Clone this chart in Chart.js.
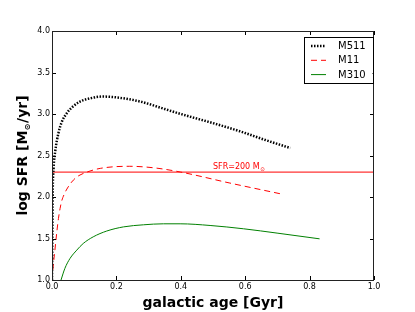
<!DOCTYPE html>
<html>
<head>
<meta charset="utf-8">
<script src="https://cdn.jsdelivr.net/npm/chart.js@4.4.1/dist/chart.umd.min.js"></script>
<style>
html,body{margin:0;padding:0;background:#fff;}
#wrap{width:415px;height:312px;}
</style>
</head>
<body>
<div id="wrap"><canvas id="c" width="415" height="312"></canvas></div>
<script>
// ---- data ----
const seriesNames = ['M511', 'M11', 'M310'];
const m511X = [0, 0.002, 0.005, 0.01, 0.02, 0.03, 0.046, 0.065, 0.087, 0.12, 0.155, 0.2, 0.274, 0.35, 0.4, 0.5, 0.585, 0.66, 0.74];
const m511Y = [1.0, 2.0, 2.35, 2.55, 2.77, 2.9, 3.01, 3.09, 3.15, 3.19, 3.21, 3.2, 3.15, 3.06, 3.0, 2.89, 2.79, 2.69, 2.59];
const m11X = [0, 0.004, 0.009, 0.015, 0.02, 0.025, 0.03, 0.04, 0.05, 0.061, 0.075, 0.087, 0.108, 0.15, 0.24, 0.32, 0.4, 0.55, 0.72];
const m11Y = [1.0, 1.18, 1.36, 1.58, 1.74, 1.86, 1.95, 2.05, 2.12, 2.18, 2.235, 2.265, 2.30, 2.345, 2.37, 2.35, 2.30, 2.17, 2.03];
const m310X = [0.028, 0.04, 0.056, 0.077, 0.097, 0.128, 0.17, 0.222, 0.284, 0.346, 0.398, 0.491, 0.595, 0.699, 0.831];
const m310Y = [1.0, 1.14, 1.26, 1.36, 1.44, 1.52, 1.59, 1.64, 1.665, 1.677, 1.677, 1.657, 1.617, 1.565, 1.496];
const thresholdX = [0, 1];
const thresholdY = [2.3, 2.3];
const thresholdLabel = 'SFR=200 M';
const sunSymbol = '\u2299';
const xTicks = [0, 0.2, 0.4, 0.6, 0.8, 1.0];
const yTicks = [1.0, 1.5, 2.0, 2.5, 3.0, 3.5, 4.0];
const xTitle = 'galactic age [Gyr]';
const yTitleParts = ['log SFR [M', '\u2299', '/yr]'];

function pts(xs, ys){ return xs.map((x,i)=>({x:x, y:ys[i]})); }

const FONT = 'DejaVu Sans';

const framePlugin = {
  id: 'frame',
  afterDatasetsDraw(chart){
    const ctx = chart.ctx, a = chart.chartArea;
    const xs = chart.scales.x, ys = chart.scales.y;
    ctx.save();
    ctx.strokeStyle = '#000';
    ctx.lineWidth = 1;
    ctx.beginPath();
    xTicks.forEach(v=>{
      const px = Math.round(xs.getPixelForValue(v)) + 0.5;
      ctx.moveTo(px, a.bottom); ctx.lineTo(px, a.bottom - 4);
      ctx.moveTo(px, a.top); ctx.lineTo(px, a.top + 4);
    });
    yTicks.forEach(v=>{
      const py = Math.round(ys.getPixelForValue(v)) + 0.5;
      ctx.moveTo(a.left, py); ctx.lineTo(a.left + 4, py);
      ctx.moveTo(a.right, py); ctx.lineTo(a.right - 4, py);
    });
    ctx.stroke();
    ctx.strokeStyle = '#222';
    ctx.strokeRect(Math.round(a.left)+0.5, Math.round(a.top)+0.5, Math.round(a.right-a.left)-1, Math.round(a.bottom-a.top));
    // annotation text
    const tx = xs.getPixelForValue(0.5), ty = ys.getPixelForValue(2.335);
    ctx.fillStyle = '#ff0000';
    ctx.font = '8px "' + FONT + '"';
    ctx.textBaseline = 'alphabetic';
    ctx.textAlign = 'left';
    ctx.fillText(thresholdLabel, tx, ty);
    const w = ctx.measureText(thresholdLabel).width;
    ctx.font = '5.5px "' + FONT + '"';
    ctx.fillText(sunSymbol, tx + w + 0.5, ty + 2);
    // legend
    const bx = a.right - 70.5, by = a.top + 5.5, bw = 69, bh = 46;
    ctx.fillStyle = '#fff';
    ctx.fillRect(bx, by, bw, bh);
    ctx.strokeStyle = '#000';
    ctx.lineWidth = 1;
    ctx.strokeRect(Math.round(bx)+0.5, Math.round(by)+0.5, bw, bh);
    chart.data.datasets.forEach((ds, i)=>{
      if (!ds.inLegend) return;
      const rowY = by + 9.5 + i * 14.3;
      ctx.save();
      ctx.strokeStyle = ds.borderColor;
      ctx.lineWidth = ds.borderWidth;
      ctx.setLineDash(ds.borderDash || []);
      ctx.beginPath();
      ctx.moveTo(bx + 7.5, rowY); ctx.lineTo(bx + 22.5, rowY);
      ctx.stroke();
      ctx.restore();
      ctx.fillStyle = '#000';
      ctx.font = '10px "' + FONT + '"';
      ctx.textBaseline = 'middle';
      ctx.fillText(ds.label, bx + 34.5, rowY + 0.5);
    });
    ctx.restore();
  },
  afterDraw(chart){
    // y-axis title with subscript sun symbol
    const ctx = chart.ctx, a = chart.chartArea;
    const big = 'bold 14px "' + FONT + '"', small = 'bold 8px "' + FONT + '"';
    ctx.save();
    ctx.font = big;
    const w0 = ctx.measureText(yTitleParts[0]).width, w2 = ctx.measureText(yTitleParts[2]).width;
    ctx.font = small;
    const w1 = ctx.measureText(yTitleParts[1]).width + 1;
    const total = w0 + w1 + w2;
    const cy = (a.top + a.bottom) / 2;
    ctx.translate(27, cy);
    ctx.rotate(-Math.PI / 2);
    ctx.fillStyle = '#000';
    ctx.textBaseline = 'alphabetic';
    ctx.textAlign = 'left';
    let x = -total / 2;
    ctx.font = big; ctx.fillText(yTitleParts[0], x, 0); x += w0;
    ctx.font = small; ctx.fillText(yTitleParts[1], x + 0.5, 2.5); x += w1;
    ctx.font = big; ctx.fillText(yTitleParts[2], x, 0);
    ctx.restore();
  }
};

new Chart(document.getElementById('c'), {
  type: 'line',
  data: {
    datasets: [
      { label: seriesNames[0], data: pts(m511X, m511Y), borderColor: '#000000', borderWidth: 2.5, borderDash: [1.5, 1.5], inLegend: true },
      { label: seriesNames[1], data: pts(m11X, m11Y), borderColor: '#ff0000', borderWidth: 1, borderDash: [6, 4], inLegend: true },
      { label: seriesNames[2], data: pts(m310X, m310Y), borderColor: '#008000', borderWidth: 1, inLegend: true },
      { label: 'SFR=200', data: pts(thresholdX, thresholdY), borderColor: '#ff0000', borderWidth: 1, inLegend: false, tension: 0 }
    ]
  },
  options: {
    responsive: false,
    animation: false,
    events: [],
    layout: { padding: { top: 31, right: 41, left: 0, bottom: 0 } },
    elements: { point: { radius: 0 }, line: { cubicInterpolationMode: 'monotone', fill: false, borderCapStyle: 'butt' } },
    plugins: { legend: { display: false }, tooltip: { enabled: false } },
    scales: {
      x: {
        type: 'linear', min: 0, max: 1,
        afterFit(s){ s.height = 32; },
        afterBuildTicks(s){ s.ticks = xTicks.map(v=>({value:v})); },
        grid: { display: false, drawTicks: false },
        border: { display: false },
        ticks: { padding: 2, color: '#000', font: { family: FONT, size: 8 }, maxRotation: 0, callback: v => v.toFixed(1) },
        title: { display: true, text: xTitle, color: '#000', font: { family: FONT, size: 14, weight: 'bold' }, padding: { top: 1.5, bottom: 0 } }
      },
      y: {
        type: 'linear', min: 1, max: 4,
        afterFit(s){ s.width = 52; },
        afterBuildTicks(s){ s.ticks = yTicks.map(v=>({value:v})); },
        grid: { display: false, drawTicks: false },
        border: { display: false },
        ticks: { padding: 2, color: '#000', font: { family: FONT, size: 8 }, callback: v => v.toFixed(1) },
        title: { display: false }
      }
    }
  },
  plugins: [framePlugin]
});
</script>
</body>
</html>
